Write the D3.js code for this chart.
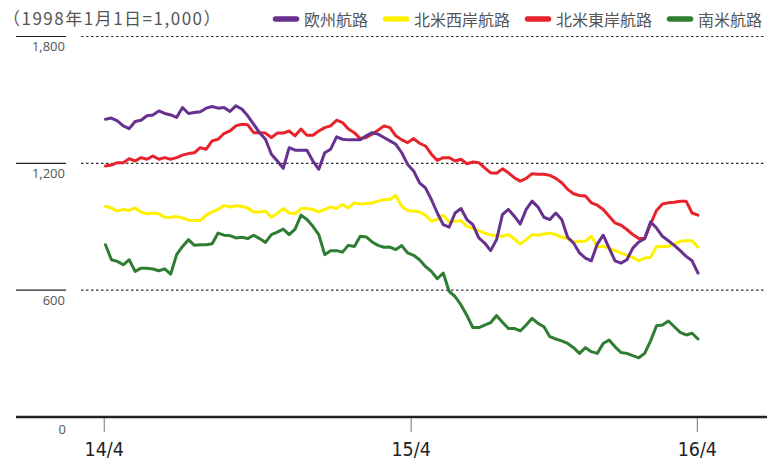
<!DOCTYPE html>
<html><head><meta charset="utf-8">
<script src="https://cdn.jsdelivr.net/npm/d3@7"></script>
<style>body{margin:0;background:#fff}</style></head>
<body><svg id="c" width="767" height="461"></svg>
<script>
const seriesNames = ["欧州航路","北米西岸航路","北米東岸航路","南米航路"];
const seriesColors = ["#67318f","#fff000","#e8232b","#2e7d32"];

const europe = [1409,1414,1401,1377,1364,1398,1404,1425,1429,1448,1436,1429,1417,1464,1436,1440,1444,1461,1469,1461,1464,1445,1472,1457,1425,1385,1345,
1314,1243,1211,1176,1274,1262,1262,1262,1211,1172,1250,1267,1325,1314,1311,1311,1311,1330,1345,1338,1322,1306,1290,1250,1195,
1164,1108,1084,1029,965,910,898,965,986,934,910,847,823,787,839,958,982,950,913,982,1021,993,945,934,
965,934,850,823,776,752,739,818,860,799,739,728,744,799,828,844,923,894,855,834,812,787,760,739,681];

const westCoast = [997,989,974,982,977,989,970,961,965,961,945,945,948,942,931,929,929,955,970,982,1001,993,999,997,989,970,970,
974,945,963,986,965,961,986,986,982,970,982,994,986,1005,989,1013,1008,1010,1012,1021,1029,1029,1048,997,977,
974,
970,955,926,934,955,923,926,929,902,894,882,870,860,860,855,863,842,818,839,863,860,866,870,
863,850,844,828,831,831,855,807,807,799,787,776,765,755,739,752,755,807,807,807,818,831,834,834,803];

const eastCoast = [1187,1192,1203,1203,1222,1211,1227,1219,1235,1219,1227,1219,1227,1239,1246,1250,1274,1267,1306,1314,1341,1353,1377,1385,1382,1345,1345,
1343,1322,1343,1343,1353,1330,1362,1333,1333,1353,1369,1377,1404,1393,1362,1345,1317,1322,1338,1357,1377,1369,1330,1311,
1298,1317,
1295,1282,1243,1214,1227,1227,1211,1219,1198,1206,1203,1179,1155,1153,1174,1155,1132,1116,1129,1151,1148,1148,1143,
1129,1108,1077,1056,1048,1045,1013,1002,982,950,918,907,887,863,844,844,913,977,1008,1013,1016,1021,1021,965,955];

const southAmerica = [815,744,736,720,744,689,704,704,700,692,701,676,768,807,839,812,815,815,820,870,860,858,847,850,844,860,844,
826,863,875,889,863,889,955,934,902,863,768,787,787,780,812,807,855,852,828,812,803,804,792,811,776,
765,744,
712,689,654,681,594,570,530,480,423,423,435,446,480,448,419,419,407,435,467,443,427,380,
369,360,348,328,301,328,309,301,348,364,332,305,301,290,280,301,360,432,435,454,427,400,388,396,369];

const yTicks = [0, 600, 1200, 1800];
const xTickLabels = ["14/4", "15/4", "16/4"];
const xTickIdx = [-0.3, 51.5, 99.8];
const titleText = "（1998年1月1日=1,000）";

const allSeries = [europe, westCoast, eastCoast, southAmerica];

const svg = d3.select("#c");
const x = d3.scaleLinear().domain([0, europe.length - 1]).range([105.5, 698]);
const y = d3.scaleLinear().domain([0, 1800]).range([417, 36.5]);

// gridlines
yTicks.filter(v => v > 0).forEach(v => {
  svg.append("line").attr("x1", 16).attr("x2", 66).attr("y1", y(v)).attr("y2", y(v))
    .attr("stroke", "#222").attr("stroke-width", 1.2);
  svg.append("line").attr("x1", 81).attr("x2", 765).attr("y1", y(v)).attr("y2", y(v))
    .attr("stroke", "#333").attr("stroke-width", 1.2).attr("stroke-dasharray", "2.5,2.5");
});
yTicks.forEach(v => {
  svg.append("text").attr("x", v === 0 ? 66 : 65).attr("y", y(v) + (v === 0 ? 16.5 : 14.5))
    .attr("text-anchor", "end").attr("font-family", "'Open Sans', 'Noto Sans', sans-serif")
    .attr("font-size", 13).attr("fill", "#555").text(d3.format(",")(v));
});

// x axis
const xAxis = d3.axisBottom(x).tickValues(xTickIdx).tickFormat((d, i) => xTickLabels[i])
  .tickSize(15).tickPadding(10);
const gx = svg.append("g").attr("transform", `translate(0,${y(0)})`).call(xAxis);
gx.select(".domain").remove();
gx.selectAll(".tick line").attr("stroke", "#777").attr("stroke-width", 1);
gx.selectAll(".tick text").attr("font-family", "'DejaVu Sans Condensed', 'DejaVu Sans', sans-serif")
  .attr("font-stretch", "condensed").attr("font-size", 19.5).attr("fill", "#222");
svg.append("line").attr("x1", 16).attr("x2", 767).attr("y1", y(0)).attr("y2", y(0))
  .attr("stroke", "#222").attr("stroke-width", 2.5);

// lines
const line = d3.line().x((d, i) => x(i)).y(d => y(d));
[3, 2, 1, 0].forEach(k => {
  svg.append("path").datum(allSeries[k]).attr("d", line).attr("fill", "none")
    .attr("stroke", seriesColors[k]).attr("stroke-width", 3)
    .attr("stroke-linejoin", "round").attr("stroke-linecap", "round");
});

// title
svg.append("text").attr("x", 3).attr("y", 25).attr("font-family", "'Noto Sans CJK JP', sans-serif")
  .attr("font-size", 17).attr("fill", "#555").attr("letter-spacing", 1.5).text(titleText);

// legend
let lx = 273;
seriesNames.forEach((n, k) => {
  svg.append("line").attr("x1", lx + 2.5).attr("x2", lx + 23.5).attr("y1", 19).attr("y2", 19)
    .attr("stroke", seriesColors[k]).attr("stroke-width", 5.5).attr("stroke-linecap", "round");
  const t = svg.append("text").attr("x", lx + 31).attr("y", 25.5)
    .attr("font-family", "'Noto Sans CJK JP', sans-serif").attr("font-size", 16)
    .attr("fill", "#555").text(n);
  lx += 31 + t.node().getComputedTextLength() + 15;
});
</script></body></html>
